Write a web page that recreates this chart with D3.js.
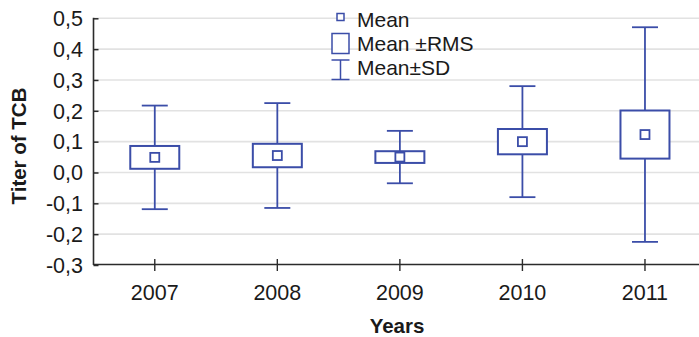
<!DOCTYPE html>
<html>
<head>
<meta charset="utf-8">
<script src="https://cdn.jsdelivr.net/npm/d3@7"></script>
<style>
  html, body { margin: 0; padding: 0; background: #fff; }
  svg { display: block; font-family: "Liberation Sans", Arial, sans-serif; }
</style>
</head>
<body>
<svg id="chart" width="699" height="337"></svg>
<script>
// Titer of TCB by year: mean, ±RMS box and ±SD whiskers
const years = ["2007", "2008", "2009", "2010", "2011"];
const means = [0.049, 0.055, 0.050, 0.100, 0.123];
const rms   = [0.037, 0.038, 0.019, 0.041, 0.078];
const sd    = [0.168, 0.170, 0.085, 0.180, 0.348];
const yTicks = [-0.3, -0.2, -0.1, 0.0, 0.1, 0.2, 0.3, 0.4, 0.5];
const legendItems = ["Mean", "Mean \u00B1RMS", "Mean\u00B1SD"];

const W = 699, H = 337;
const plotLeft = 93.5, plotRight = 706.25, plotTop = 18.3, plotBottom = 265;
const blue = "#3b4da8";
const axisColor = "#2b2b2b";

const svg = d3.select("#chart");

const x = d3.scaleBand().domain(years).range([plotLeft, plotRight]).padding(0);
const y = d3.scaleLinear().domain([-0.3, 0.5]).range([plotBottom, plotTop]);
const fmt = v => d3.format(".1f")(v).replace(".", ",").replace("\u2212", "-");

// horizontal grid lines
svg.append("g")
  .selectAll("line")
  .data(yTicks.filter(t => t > -0.3))
  .join("line")
  .attr("x1", plotLeft).attr("x2", W)
  .attr("y1", d => y(d)).attr("y2", d => y(d))
  .attr("stroke", "#e2e2e2").attr("stroke-width", 1.6);

// y axis
const yAxis = svg.append("g")
  .attr("transform", `translate(${plotLeft},0)`)
  .call(d3.axisRight(y).tickValues(yTicks).tickSize(5).tickFormat(""));
yAxis.select(".domain").remove();
yAxis.selectAll(".tick line").attr("stroke", axisColor).attr("stroke-width", 1.5);
svg.append("line")
  .attr("x1", plotLeft).attr("x2", plotLeft)
  .attr("y1", plotTop - 0.5).attr("y2", plotBottom)
  .attr("stroke", axisColor).attr("stroke-width", 1.6);

svg.append("g")
  .selectAll("text")
  .data(yTicks)
  .join("text")
  .attr("x", 83)
  .attr("y", d => y(d))
  .attr("dy", "0.36em")
  .attr("text-anchor", "end")
  .attr("font-size", 21.5)
  .attr("fill", "#1a1a1a")
  .text(fmt);

// x axis
svg.append("line")
  .attr("x1", plotLeft).attr("x2", W)
  .attr("y1", plotBottom - 0.5).attr("y2", plotBottom - 0.5)
  .attr("stroke", axisColor).attr("stroke-width", 1.6);
svg.append("g")
  .selectAll("line")
  .data(years)
  .join("line")
  .attr("x1", d => x(d) + x.bandwidth() / 2)
  .attr("x2", d => x(d) + x.bandwidth() / 2)
  .attr("y1", plotBottom - 6).attr("y2", plotBottom + 6)
  .attr("stroke", axisColor).attr("stroke-width", 1.4);
svg.append("g")
  .selectAll("text")
  .data(years)
  .join("text")
  .attr("x", d => x(d) + x.bandwidth() / 2)
  .attr("y", 299.5)
  .attr("text-anchor", "middle")
  .attr("font-size", 21.5)
  .attr("fill", "#1a1a1a")
  .text(d => d);

// axis titles
svg.append("text")
  .attr("x", 397).attr("y", 333)
  .attr("text-anchor", "middle")
  .attr("font-size", 20.5).attr("font-weight", "bold")
  .attr("fill", "#1a1a1a")
  .text("Years");
svg.append("text")
  .attr("transform", "translate(26,146) rotate(-90)")
  .attr("text-anchor", "middle")
  .attr("font-size", 20.5).attr("font-weight", "bold")
  .attr("fill", "#1a1a1a")
  .text("Titer of TCB");

// boxes, whiskers and mean markers
const boxW = 49, capW = 26, meanS = 9;
const groups = svg.append("g")
  .selectAll("g")
  .data(years.map((yr, i) => ({ yr, m: means[i], r: rms[i], s: sd[i] })))
  .join("g")
  .attr("transform", d => `translate(${x(d.yr) + x.bandwidth() / 2},0)`);

groups.append("line")
  .attr("x1", 0).attr("x2", 0)
  .attr("y1", d => y(d.m + d.s)).attr("y2", d => y(d.m - d.s))
  .attr("stroke", blue).attr("stroke-width", 1.8);
groups.append("line")
  .attr("x1", -capW / 2).attr("x2", capW / 2)
  .attr("y1", d => y(d.m + d.s)).attr("y2", d => y(d.m + d.s))
  .attr("stroke", blue).attr("stroke-width", 1.8);
groups.append("line")
  .attr("x1", -capW / 2).attr("x2", capW / 2)
  .attr("y1", d => y(d.m - d.s)).attr("y2", d => y(d.m - d.s))
  .attr("stroke", blue).attr("stroke-width", 1.8);
groups.append("rect")
  .attr("x", -boxW / 2).attr("width", boxW)
  .attr("y", d => y(d.m + d.r))
  .attr("height", d => y(d.m - d.r) - y(d.m + d.r))
  .attr("fill", "#fff").attr("stroke", blue).attr("stroke-width", 2);
groups.append("rect")
  .attr("x", -meanS / 2).attr("width", meanS)
  .attr("y", d => y(d.m) - meanS / 2).attr("height", meanS)
  .attr("fill", "#fff").attr("stroke", blue).attr("stroke-width", 1.8);

// legend
const lg = svg.append("g");
const lx = 340.5, tx = 357;
const baselines = [26.5, 50.5, 75];
lg.append("rect")
  .attr("x", lx - 3.5).attr("y", 13.5).attr("width", 7).attr("height", 7)
  .attr("fill", "#fff").attr("stroke", blue).attr("stroke-width", 1.5);
lg.append("rect")
  .attr("x", lx - 8.5).attr("y", 33.5).attr("width", 17).attr("height", 20)
  .attr("fill", "#fff").attr("stroke", blue).attr("stroke-width", 1.5);
lg.append("line")
  .attr("x1", lx).attr("x2", lx).attr("y1", 60).attr("y2", 79.5)
  .attr("stroke", blue).attr("stroke-width", 1.5);
lg.append("line")
  .attr("x1", lx - 9).attr("x2", lx + 9).attr("y1", 60).attr("y2", 60)
  .attr("stroke", blue).attr("stroke-width", 1.5);
lg.append("line")
  .attr("x1", lx - 9).attr("x2", lx + 9).attr("y1", 79.5).attr("y2", 79.5)
  .attr("stroke", blue).attr("stroke-width", 1.5);
lg.selectAll("text")
  .data(legendItems)
  .join("text")
  .attr("x", tx)
  .attr("y", (d, i) => baselines[i])
  .attr("font-size", 21)
  .attr("fill", "#1a1a1a")
  .text(d => d);
</script>
</body>
</html>
